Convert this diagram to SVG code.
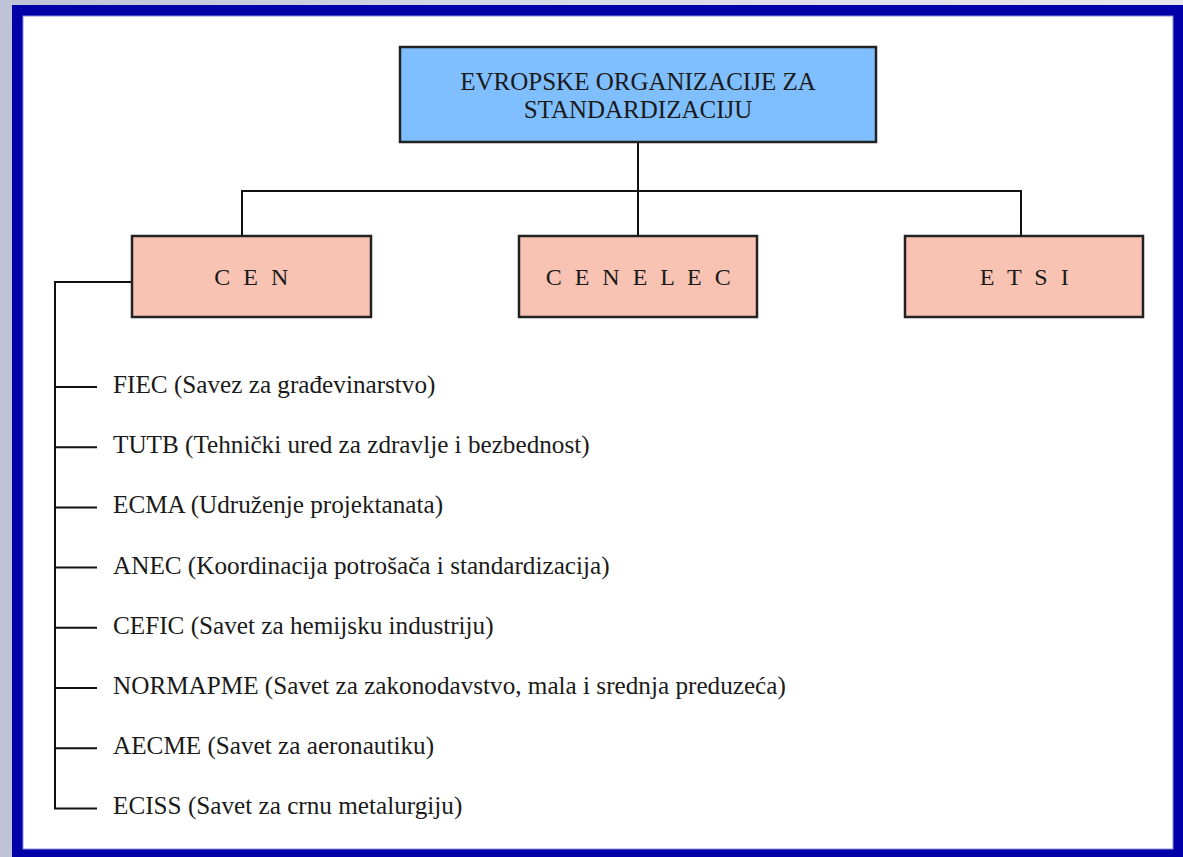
<svg xmlns="http://www.w3.org/2000/svg" width="1183" height="857" viewBox="0 0 1183 857">
  <defs>
    <linearGradient id="bg" x1="0" y1="0" x2="1" y2="0">
      <stop offset="0" stop-color="#bfc3d8"/>
      <stop offset="0.5" stop-color="#d8dbe8"/>
      <stop offset="1" stop-color="#e6e8f0"/>
    </linearGradient>
    <style>
      .box{stroke:#222;stroke-width:2.5}
      .blue{fill:#80bfff}
      .salmon{fill:#f9c3b4}
      .t{font-family:"Liberation Serif","Times New Roman",serif;font-size:25.2px;fill:#1a1a1a}
      .ttl{font-size:25px;text-anchor:middle}
      .sp{font-size:24px;letter-spacing:3.5px;text-anchor:middle}
      .conn{stroke:#111;stroke-width:2;fill:none}
    </style>
  </defs>

  <!-- background and frame -->
  <rect x="0" y="0" width="1183" height="857" fill="url(#bg)"/>
  <rect x="12" y="5" width="1171" height="852" fill="#0000a8"/>
  <rect x="23" y="16" width="1150" height="833" fill="#ffffff" stroke="#8c8cd8" stroke-width="1"/>

  <!-- connectors -->
  <g id="connectors">
    <path class="conn" d="M638,142 V236"/>
    <path class="conn" d="M242,236 V191 H1021 V236"/>
    <path class="conn" d="M132,282 H55 V808.4 H97"/>
    <path class="conn" d="M55,387 H97"/>
    <path class="conn" d="M55,447.2 H97"/>
    <path class="conn" d="M55,507.4 H97"/>
    <path class="conn" d="M55,567.6 H97"/>
    <path class="conn" d="M55,627.8 H97"/>
    <path class="conn" d="M55,688 H97"/>
    <path class="conn" d="M55,748.2 H97"/>
  </g>

  <!-- nodes -->
  <g id="root">
    <rect class="box blue" x="400" y="47" width="476" height="95"/>
    <text class="t ttl" x="638" y="90">EVROPSKE ORGANIZACIJE ZA</text>
    <text class="t ttl" x="638" y="118">STANDARDIZACIJU</text>
  </g>
  <g id="cen">
    <rect class="box salmon" x="132" y="236" width="239" height="81"/>
    <text class="t sp" x="253" y="285">C E N</text>
  </g>
  <g id="cenelec">
    <rect class="box salmon" x="519" y="236" width="238" height="81"/>
    <text class="t sp" x="640" y="285">C E N E L E C</text>
  </g>
  <g id="etsi">
    <rect class="box salmon" x="905" y="236" width="238" height="81"/>
    <text class="t sp" x="1026" y="285">E T S I</text>
  </g>

  <g id="fiec"><text class="t" x="113" y="393">FIEC (Savez za građevinarstvo)</text></g>
  <g id="tutb"><text class="t" x="113" y="453.2">TUTB (Tehnički ured za zdravlje i bezbednost)</text></g>
  <g id="ecma"><text class="t" x="113" y="513.4">ECMA (Udruženje projektanata)</text></g>
  <g id="anec"><text class="t" x="113" y="573.6">ANEC (Koordinacija potrošača i standardizacija)</text></g>
  <g id="cefic"><text class="t" x="113" y="633.8">CEFIC (Savet za hemijsku industriju)</text></g>
  <g id="normapme"><text class="t" x="113" y="694">NORMAPME (Savet za zakonodavstvo, mala i srednja preduzeća)</text></g>
  <g id="aecme"><text class="t" x="113" y="754.2">AECME (Savet za aeronautiku)</text></g>
  <g id="eciss"><text class="t" x="113" y="814.4">ECISS (Savet za crnu metalurgiju)</text></g>
</svg>
